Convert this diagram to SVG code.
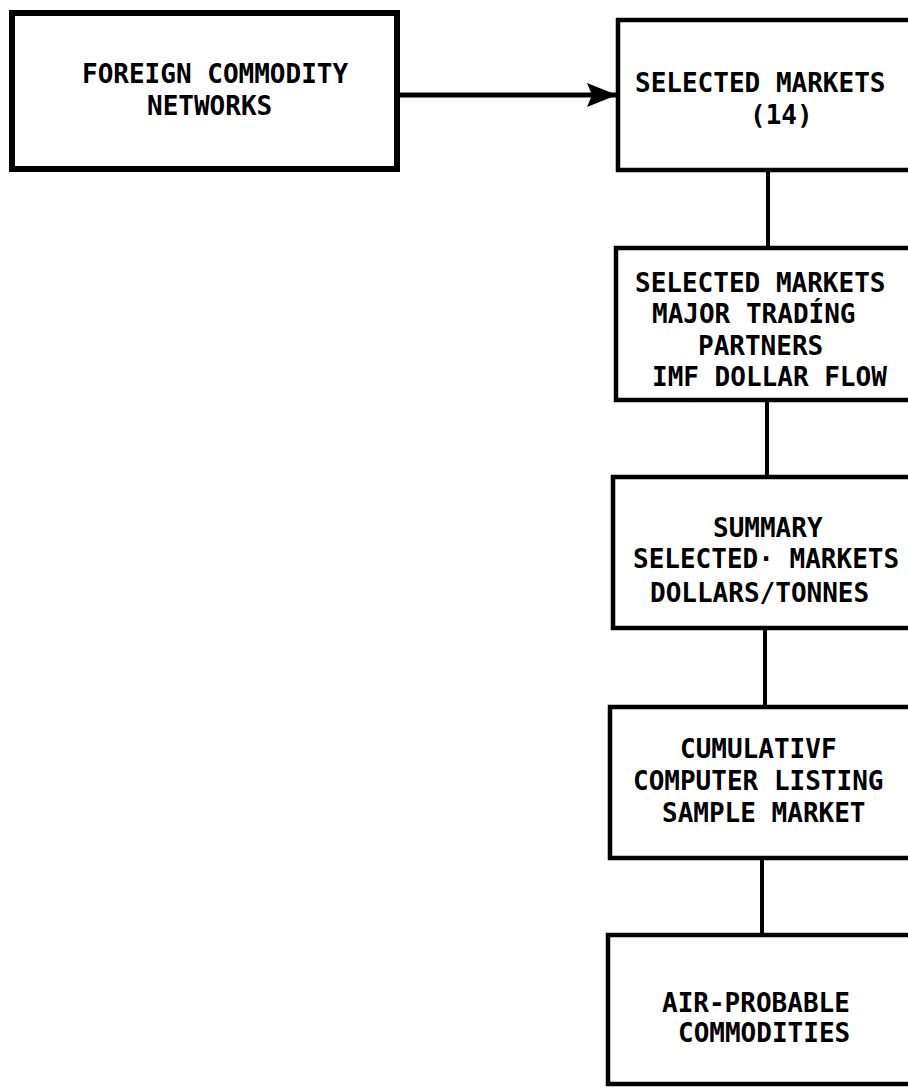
<svg xmlns="http://www.w3.org/2000/svg" width="908" height="1088" viewBox="0 0 908 1088">
<defs>
<style>
.box{fill:#fff;stroke:#000;stroke-width:4.5}
.thick{stroke-width:6}
.con{stroke:#000;stroke-width:4;fill:none}
.arrow{stroke-width:5}
.t{font-family:"DejaVu Sans Mono","Liberation Mono",monospace;font-size:26px;font-weight:bold;fill:#000}
</style>
<marker id="ah" markerUnits="userSpaceOnUse" markerWidth="32" markerHeight="28" refX="30" refY="14" orient="auto">
<polygon points="0,2 30,14 0,26 5,14" fill="#000"/>
</marker>
</defs>
<rect width="908" height="1088" fill="#fff"/>
<g id="connectors">
<line class="con arrow" x1="397" y1="95" x2="617" y2="95" marker-end="url(#ah)"/>
<line class="con" x1="768" y1="170" x2="768" y2="248"/>
<line class="con" x1="767" y1="400" x2="767" y2="477"/>
<line class="con" x1="765" y1="628" x2="765" y2="707"/>
<line class="con" x1="762" y1="858" x2="762" y2="935"/>
</g>
<g id="n1">
<rect class="box thick" x="12" y="13" width="385" height="156"/>
<text class="t" x="82" y="83">FOREIGN COMMODITY</text>
<text class="t" x="147" y="115">NETWORKS</text>
</g>
<g id="n2">
<rect class="box" x="618" y="20" width="300" height="150"/>
<text class="t" x="635" y="92">SELECTED MARKETS</text>
<text class="t" x="750" y="124">(14)</text>
</g>
<g id="n3">
<rect class="box" x="616" y="248" width="302" height="152"/>
<text class="t" x="635" y="292">SELECTED MARKETS</text>
<text class="t" x="652" y="323">MAJOR TRADÍNG</text>
<text class="t" x="698" y="355">PARTNERS</text>
<text class="t" x="652" y="386">IMF DOLLAR FLOW</text>
</g>
<g id="n4">
<rect class="box" x="613" y="477" width="305" height="151"/>
<text class="t" x="713" y="537">SUMMARY</text>
<text class="t" x="633" y="568">SELECTED· MARKETS</text>
<text class="t" x="650" y="602">DOLLARS/TONNES</text>
</g>
<g id="n5">
<rect class="box" x="610" y="707" width="308" height="151"/>
<text class="t" x="680" y="758">CUMULATIVF</text>
<text class="t" x="633" y="790">COMPUTER LISTING</text>
<text class="t" x="662" y="822">SAMPLE MARKET</text>
</g>
<g id="n6">
<rect class="box" x="608" y="935" width="310" height="149"/>
<text class="t" x="662" y="1012">AIR-PROBABLE</text>
<text class="t" x="678" y="1042">COMMODITIES</text>
</g>
</svg>
